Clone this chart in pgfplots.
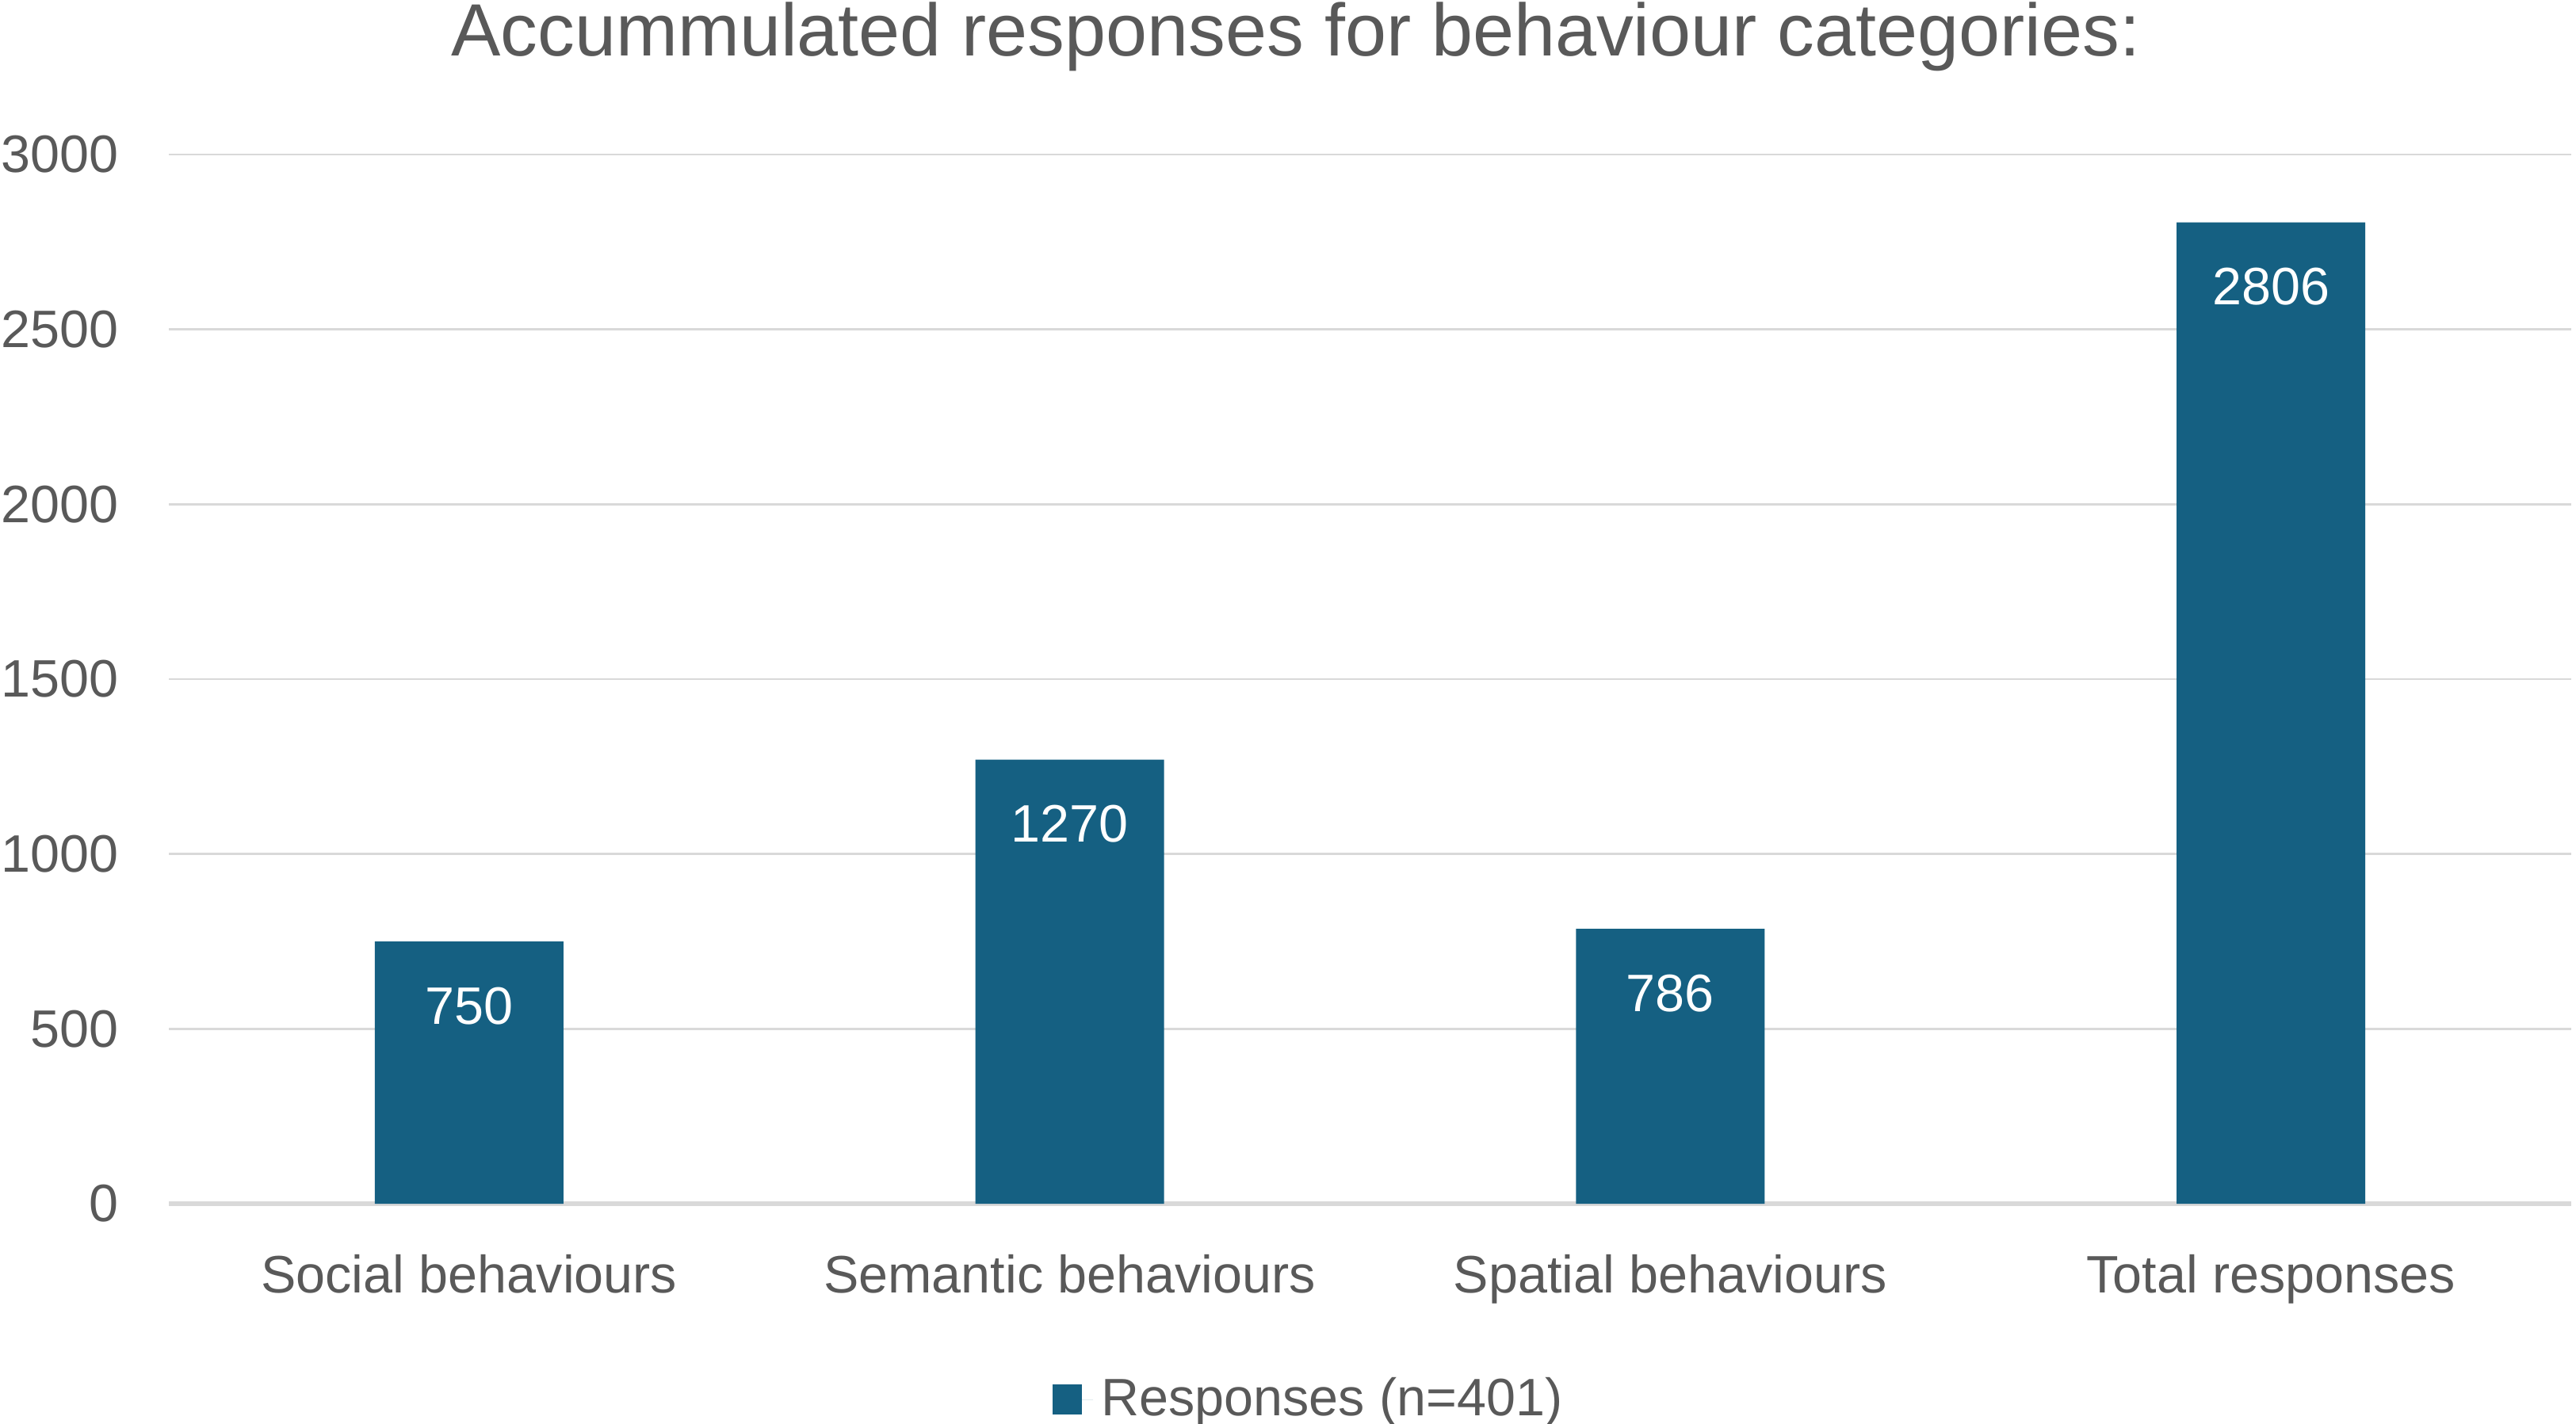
\documentclass[border=0pt]{standalone}
\usepackage{fontspec}
\setmainfont{Liberation Sans}
\usepackage{pgfplots}
\pgfplotsset{compat=1.18}
\definecolor{barblue}{HTML}{156082}
\definecolor{txtgray}{HTML}{595959}
\definecolor{gridgray}{HTML}{D9D9D9}
\newcommand{\lblfont}{\fontsize{13.3}{16}\selectfont}
\begin{document}
\begin{tikzpicture}
\path[use as bounding box] (-42.6pt,-55.4pt) rectangle (607.4pt,303.8pt);
\begin{axis}[
 scale only axis, width=606.2pt, height=264.8pt,
 at={(0,0)}, anchor=south west,
 xmin=-0.5, xmax=3.5, ymin=0, ymax=3000,
 xtick={0,1,2,3},
 xticklabels={Social behaviours, Semantic behaviours, Spatial behaviours, Total responses},
 ytick={0,500,1000,1500,2000,2500,3000},
 ymajorgrids, grid style={gridgray, line width=0.5pt},
 axis lines*=left,
 x axis line style={gridgray, line width=1.1pt},
 y axis line style={draw=none},
 major tick length=0pt,
 tick style={draw=none},
 ticklabel style={text=txtgray, font=\lblfont},
 /pgf/number format/assume math mode=true,
 /pgf/number format/1000 sep={},
 scaled y ticks=false,
 yticklabel style={anchor=east, xshift=-9.2pt},
 xticklabel style={anchor=base, yshift=-22.4pt},
 ybar, bar width=47.6pt,
 nodes near coords,
 every node near coord/.append style={anchor=base, yshift=-20.8pt, text=white, font=\lblfont},
 legend style={at={(0.4757,-0.1866)}, anchor=center, draw=none, fill=none, text=txtgray, font=\lblfont},
 legend image code/.code={\fill[barblue] (0pt,-3.8pt) rectangle (7.4pt,3.8pt); \path (0pt,0pt) -- (10.2pt,0pt);},
 clip=false,
]
\addplot[fill=barblue, draw=none] coordinates {(0,750) (1,1270) (2,786) (3,2806)};
\legend{Responses (n=401)}
\end{axis}
\node[anchor=base, text=txtgray, font=\fontsize{18.7}{22}\selectfont, inner sep=0pt] at (284.4pt,289.6pt) {Accummulated responses for behaviour categories:};
\end{tikzpicture}
\end{document}
